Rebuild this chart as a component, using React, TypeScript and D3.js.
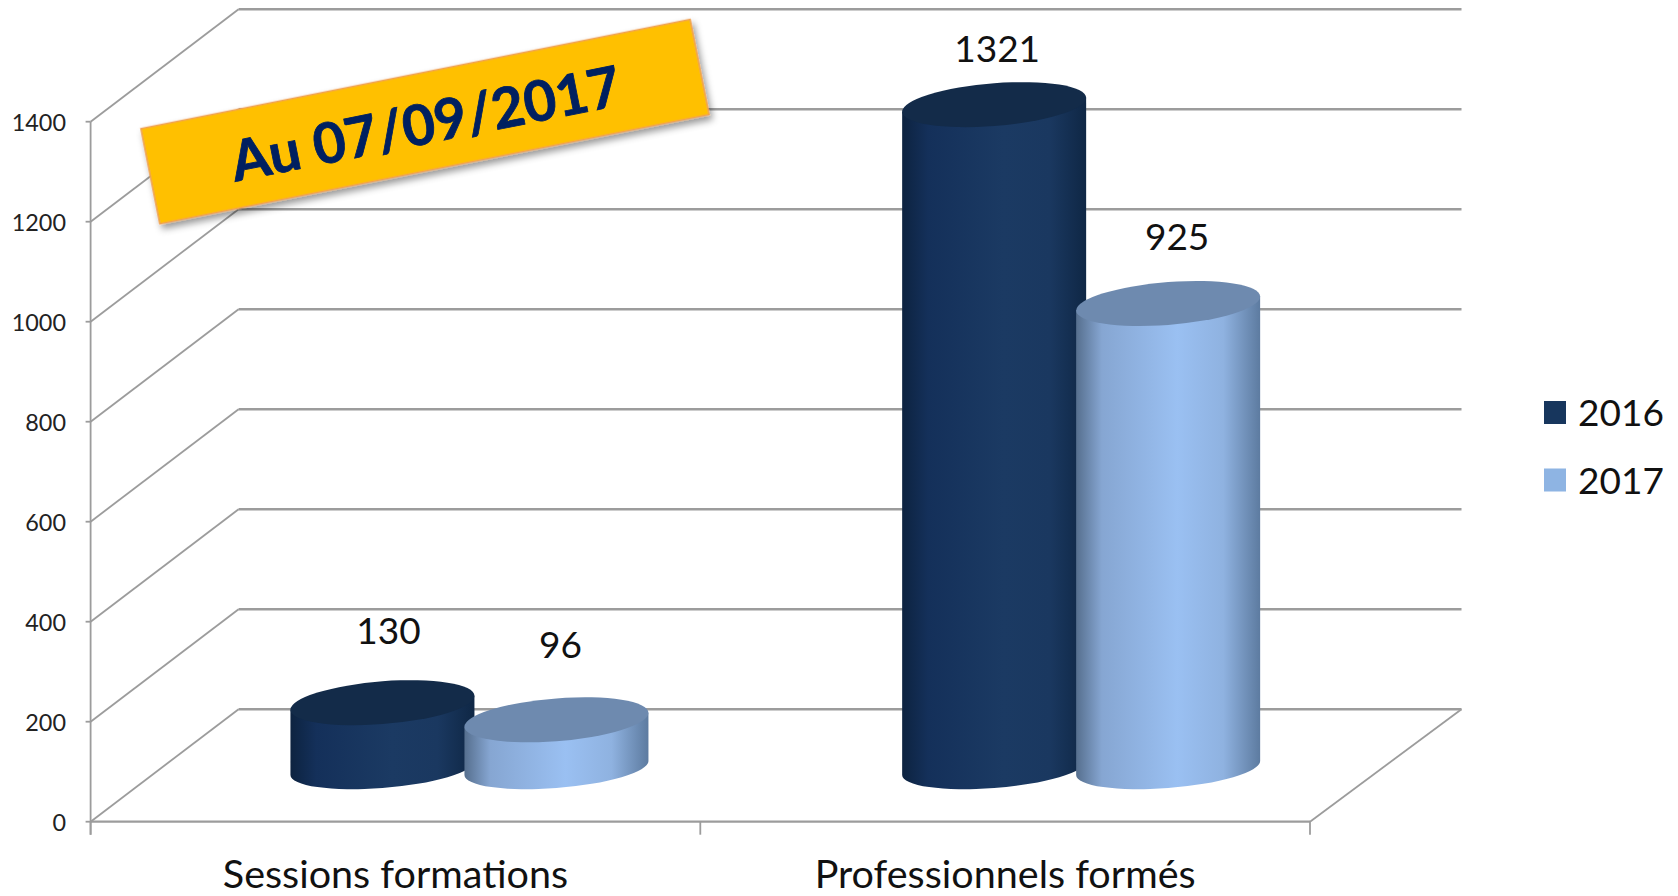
import React, { useEffect, useRef } from 'react';
import * as d3 from 'd3';

// Values
const categories = ['Sessions formations', 'Professionnels formés'];
const years = ['2016', '2017'];
const values2016 = [130, 1321];
const values2017 = [96, 925];
const yTicks = [0, 200, 400, 600, 800, 1000, 1200, 1400];
const bannerText = 'Au 07/09/2017';

const W = 1678;
const H = 896;

// Chart frame
const frontLeft = 90.6;
const frontRight = 1310;
const yBottom = 821.7;
const yTop = 121.7;
const depthX = 148;
const depthY = -112.5;

// Cylinder shape
const cylWidth = 184;
const cylOverlap = 10;
const tilt = 4.35;
const ryTop = 21.4;
const ryBase = 20;
const baseY = 768;

const font = 'Lato, Carlito, Calibri, sans-serif';

const seriesStyle = [
  { id: 'dark', top: '#132b49', legend: '#17365d', stops: ['#0d2340', '#14305a', '#1b3a63', '#1a3860', '#0f2745'] },
  { id: 'light', top: '#6e8aaf', legend: '#8eb4e3', stops: ['#566f8e', '#86a6d2', '#9ac0f2', '#8fb2e0', '#5d7ba0'] },
];
const stopOffsets = [0, 0.14, 0.55, 0.8, 1];

// Small nudges so the bars and value labels sit where the reference has them
const groupNudge = [0, 2];
const labelNudge = [
  [[6, -66], [4, -69]],
  [[3, -50], [9, -61]],
];

export default function App() {
  const ref = useRef<SVGSVGElement>(null);

  useEffect(() => {
    const svg = d3.select(ref.current).html('');

    const defs = svg.append('defs');
    seriesStyle.forEach((s) => {
      const g = defs.append('linearGradient').attr('id', 'grad-' + s.id);
      s.stops.forEach((c, i) => {
        g.append('stop').attr('offset', stopOffsets[i]).attr('stop-color', c);
      });
    });
    const shadow = defs.append('filter').attr('id', 'banner-shadow')
      .attr('x', '-10%').attr('y', '-20%').attr('width', '120%').attr('height', '150%');
    shadow.append('feDropShadow').attr('dx', 2).attr('dy', 5).attr('stdDeviation', 3.5)
      .attr('flood-color', '#000').attr('flood-opacity', 0.4);

    const y = d3.scaleLinear().domain([0, 1400]).range([yBottom, yTop]);
    const x = d3.scaleBand().domain(categories).range([frontLeft, frontRight]);
    const heightScale = d3.scaleLinear().domain([0, 1400]).range([0, 703]);

    // Back wall grid and side wall diagonals
    const grid = svg.append('g').attr('stroke', '#9c9c9c').attr('fill', 'none');
    yTicks.forEach((t) => {
      grid.append('line')
        .attr('x1', frontLeft).attr('y1', y(t))
        .attr('x2', frontLeft + depthX).attr('y2', y(t) + depthY)
        .attr('stroke-width', 1.8);
      grid.append('line')
        .attr('x1', frontLeft + depthX).attr('y1', y(t) + depthY)
        .attr('x2', frontRight + depthX + 3.5).attr('y2', y(t) + depthY)
        .attr('stroke-width', 2.4);
      grid.append('line')
        .attr('x1', frontLeft - 5).attr('y1', y(t))
        .attr('x2', frontLeft).attr('y2', y(t))
        .attr('stroke-width', 1.8);
    });

    // Floor edge and axes
    grid.append('line')
      .attr('x1', frontRight).attr('y1', yBottom)
      .attr('x2', frontRight + depthX + 3.5).attr('y2', yBottom + depthY)
      .attr('stroke-width', 1.8);
    grid.append('line')
      .attr('x1', frontLeft).attr('y1', yTop)
      .attr('x2', frontLeft).attr('y2', yBottom + 13)
      .attr('stroke-width', 1.8);
    grid.append('line')
      .attr('x1', frontLeft).attr('y1', yBottom)
      .attr('x2', frontRight).attr('y2', yBottom)
      .attr('stroke-width', 2.2);
    [frontLeft, x(categories[1]) as number, frontRight].forEach((px) => {
      grid.append('line')
        .attr('x1', px).attr('y1', yBottom)
        .attr('x2', px).attr('y2', yBottom + 13)
        .attr('stroke-width', 1.8);
    });

    // Y tick labels
    svg.append('g').selectAll('text').data(yTicks).enter().append('text')
      .attr('x', 66)
      .attr('y', (d) => y(d) + 9)
      .attr('text-anchor', 'end')
      .attr('font-family', font)
      .attr('font-size', 23.4)
      .attr('fill', '#222')
      .text((d) => d);

    // Category labels
    svg.append('g').selectAll('text').data(categories).enter().append('text')
      .attr('x', (d) => (x(d) as number) + x.bandwidth() / 2)
      .attr('y', 887.5)
      .attr('text-anchor', 'middle')
      .attr('font-family', font)
      .attr('font-size', 39.5)
      .attr('fill', '#111')
      .text((d) => d);

    // Cylinders: dark series first, the light one overlaps it
    const rx = cylWidth / 2;
    [values2016, values2017].forEach((vals, si) => {
      const style = seriesStyle[si];
      vals.forEach((v, ci) => {
        const groupCx = (x(categories[ci]) as number) + x.bandwidth() / 2 + depthX / 2 + groupNudge[ci];
        const cx = groupCx + (si === 0 ? -1 : 1) * (rx - cylOverlap / 2);
        const h = heightScale(v);
        const g = svg.append('g')
          .attr('transform', `translate(${cx},${baseY}) skewY(${-tilt})`);
        g.append('path')
          .attr('d', `M${-rx},${-h} L${-rx},0 A${rx},${ryBase} 0 0 0 ${rx},0 L${rx},${-h} Z`)
          .attr('fill', `url(#grad-${style.id})`);
        g.append('ellipse')
          .attr('cx', 0).attr('cy', -h)
          .attr('rx', rx).attr('ry', ryTop)
          .attr('fill', style.top);

        // Value label
        const [nx, ny] = labelNudge[ci][si];
        svg.append('text')
          .attr('x', cx + nx)
          .attr('y', baseY + 7 - h + ny)
          .attr('text-anchor', 'middle')
          .attr('font-family', font)
          .attr('font-size', 37)
          .attr('fill', '#111')
          .text(v);
      });
    });

    // Legend
    const legend = svg.append('g');
    years.forEach((yr, i) => {
      const ly = 401 + i * 67.5;
      legend.append('rect')
        .attr('x', 1544).attr('y', ly)
        .attr('width', 22).attr('height', 23)
        .attr('fill', seriesStyle[i].legend);
      legend.append('text')
        .attr('x', 1578).attr('y', ly + 25)
        .attr('font-family', font)
        .attr('font-size', 37)
        .attr('fill', '#111')
        .text(yr);
    });

    // Date banner
    const banner = svg.append('g')
      .attr('transform', 'translate(425,121.6) rotate(-11.25)');
    banner.append('rect')
      .attr('x', -280).attr('y', -48.5)
      .attr('width', 560).attr('height', 97)
      .attr('fill', '#ffc000')
      .attr('stroke', '#f0a050')
      .attr('stroke-width', 1.5)
      .attr('filter', 'url(#banner-shadow)');
    banner.append('text')
      .attr('x', 0).attr('y', 22)
      .attr('text-anchor', 'middle')
      .attr('font-family', font)
      .attr('font-weight', 700)
      .attr('font-size', 56)
      .attr('fill', '#002060')
      .attr('stroke', '#002060')
      .attr('stroke-width', 0.8)
      .text(bannerText);
  }, []);

  return (
    <svg
      ref={ref}
      width={W}
      height={H}
      style={{ position: 'absolute', left: 0, top: 0, background: '#fff' }}
    />
  );
}
